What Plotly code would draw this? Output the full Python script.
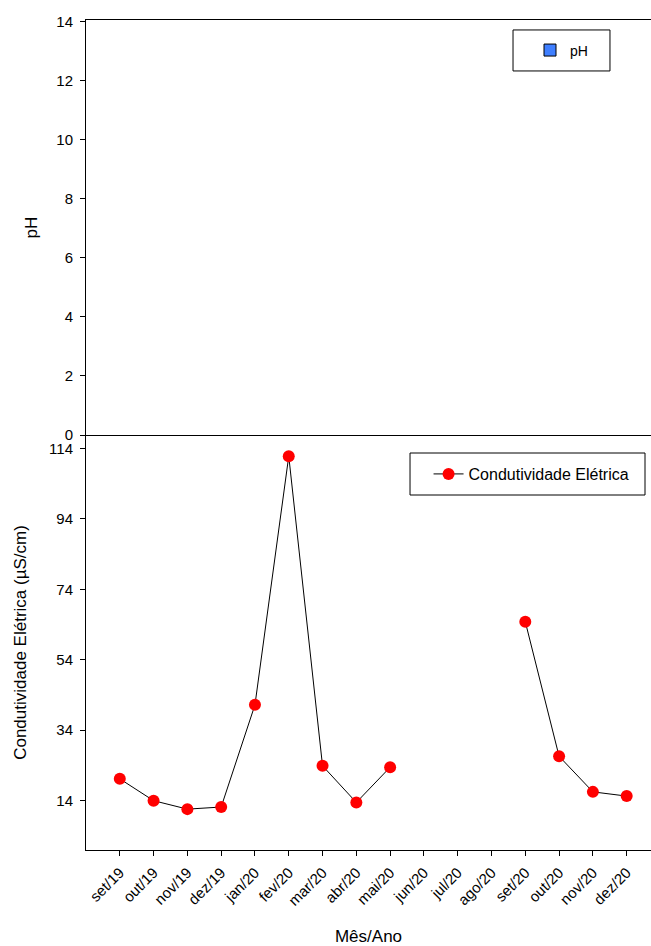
import plotly.graph_objects as go

months = ["set/19", "out/19", "nov/19", "dez/19", "jan/20", "fev/20", "mar/20", "abr/20",
          "mai/20", "jun/20", "jul/20", "ago/20", "set/20", "out/20", "nov/20", "dez/20"]
ph_values = [None] * 16
ce_values = [20.2, 14.0, 11.6, 12.2, 41.2, 111.8, 23.9, 13.5,
             23.5, None, None, None, 64.8, 26.6, 16.5, 15.3]
ph_ticks = [0, 2, 4, 6, 8, 10, 12, 14]
ce_ticks = [14, 34, 54, 74, 94, 114]

idx = list(range(len(months)))
FONT = "Liberation Sans, Arial, sans-serif"

fig = go.Figure()
fig.add_trace(go.Bar(x=idx, y=ph_values, name="pH", xaxis="x2", yaxis="y2",
                     marker=dict(color="#3f7fff", line=dict(color="black", width=1)),
                     legend="legend2", showlegend=True))
fig.add_trace(go.Scatter(x=idx, y=ce_values, name="Condutividade Elétrica",
                         mode="lines+markers", connectgaps=False,
                         line=dict(color="black", width=1),
                         marker=dict(color="red", size=12),
                         xaxis="x", yaxis="y", legend="legend", showlegend=True))

axis_common = dict(showgrid=False, zeroline=False, automargin=False,
                   linecolor="black", linewidth=1, tickcolor="black")

fig.update_layout(
    width=651, height=946,
    showlegend=True,
    margin=dict(l=86, r=0, t=20, b=96, autoexpand=False),
    paper_bgcolor="white", plot_bgcolor="white",
    font=dict(family=FONT, color="black", size=15),
    xaxis=dict(domain=[0, 1], range=[-1, 15.72], tickmode="array", tickvals=idx,
               ticktext=months, tickangle=-45, ticks="outside", ticklen=5,
               showline=True, tickfont=dict(size=15), ticklabelstandoff=2,
               title=dict(text="Mês/Ano", font=dict(size=17), standoff=24), **axis_common),
    yaxis=dict(domain=[0, 0.5], range=[0, 117.8], tickmode="array", tickvals=ce_ticks,
               ticks="outside", ticklen=5, showline=True, tickfont=dict(size=15),
               ticklabelstandoff=4,
               title=dict(text="Condutividade Elétrica (µS/cm)", font=dict(size=17), standoff=18),
               **axis_common),
    xaxis2=dict(domain=[0, 1], range=[-1, 15.72], anchor="y2", showticklabels=False,
                ticks="", showline=True, mirror=True, **axis_common),
    yaxis2=dict(domain=[0.5, 1], range=[0, 14.05], tickmode="array", tickvals=ph_ticks,
                anchor="x2", ticks="outside", ticklen=5, showline=True,
                tickfont=dict(size=15), ticklabelstandoff=4,
                title=dict(text="pH", font=dict(size=17), standoff=14), **axis_common),
    legend=dict(x=0.7886, y=0.453, xanchor="center", yanchor="middle",
                borderwidth=0, bgcolor="rgba(0,0,0,0)", font=dict(size=16)),
    legend2=dict(x=0.8416, y=0.9633, xanchor="center", yanchor="middle",
                 borderwidth=0, bgcolor="rgba(0,0,0,0)", font=dict(size=14)),
    shapes=[
        dict(type="rect", xref="paper", yref="paper", x0=0.5735, x1=0.9894,
             y0=0.4277, y1=0.4783, line=dict(color="black", width=1), layer="below"),
        dict(type="rect", xref="paper", yref="paper", x0=0.7558, x1=0.9274,
             y0=0.9386, y1=0.988, line=dict(color="black", width=1), layer="below"),
    ],
    bargap=0.3,
)

fig.write_html("out.html", config={"displayModeBar": False},
               post_script="document.body.style.margin='0';")
